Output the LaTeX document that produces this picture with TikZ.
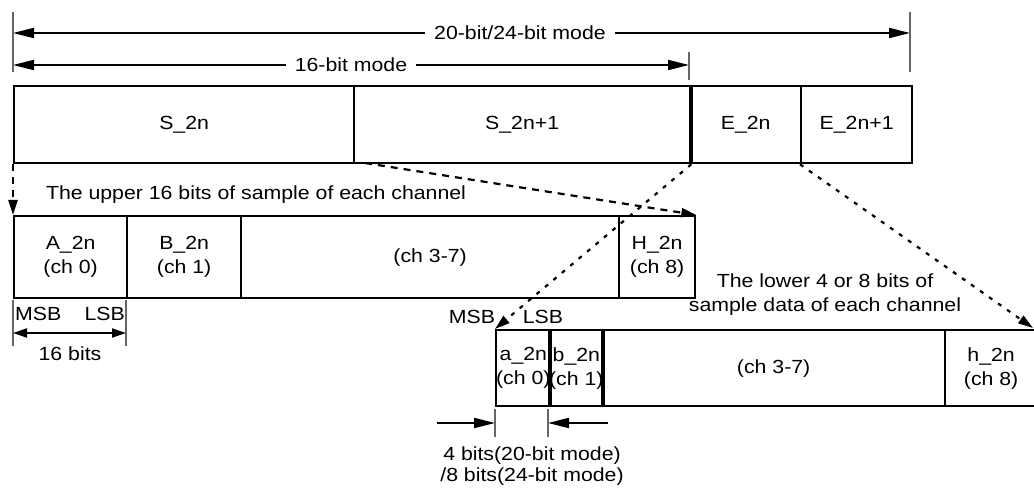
\documentclass[tikz,border=0pt]{standalone}
\usepackage{fontspec}
\setmainfont[FakeStretch=1.12]{Liberation Sans}
\usetikzlibrary{arrows.meta}
\begin{document}
\begin{tikzpicture}[x=1pt,y=-1pt,
  every node/.style={font=\fontsize{19}{24}\selectfont, inner sep=0pt, align=center},
  cell/.style={draw, line width=2.3pt, anchor=north west},
  tick/.style={line width=1.1pt, draw=black!60},
  arr/.style={line width=2pt, -{Triangle[length=21pt,width=10pt]}},
  darr/.style={line width=2pt, {Triangle[length=14pt,width=9pt]}-{Triangle[length=14pt,width=9pt]}},
  dsh/.style={line width=2.2pt, dash pattern=on 7pt off 6pt, -{Triangle[length=15pt,width=9pt]}},
  dtt/.style={line width=2.2pt, dash pattern=on 4pt off 7pt, -{Triangle[length=15pt,width=9pt]}},
  lbl/.style={fill=white, inner xsep=9pt, inner ysep=2pt}
]
\useasboundingbox (0,0) rectangle (1034,489);

% top row
\node[cell, minimum width=340pt, minimum height=77pt] (s0) at (13,85) {S\_2n};
\node[cell, minimum width=336pt, minimum height=77pt] (s1) at (353,85) {S\_2n+1};
\node[cell, minimum width=111pt, minimum height=77pt] (e0) at (689,85) {E\_2n};
\node[cell, minimum width=111pt, minimum height=77pt] (e1) at (800,85) {E\_2n+1};
\draw[line width=3.2pt] (s1.north east) -- (s1.south east);

% mode arrows
\coordinate (t0a) at (13,12);  \coordinate (t0b) at (13,72);
\coordinate (t2a) at (910,12); \coordinate (t2b) at (910,72);
\coordinate (t1a) at (689,52); \coordinate (t1b) at (689,80);
\draw[tick] (t0a) -- (t0b);
\draw[tick] (t2a) -- (t2b);
\draw[tick] (t1a) -- (t1b);
\coordinate (l20) at (13,33);  \coordinate (r20) at (910,33);
\coordinate (l16) at (13,65);  \coordinate (r16) at (689,65);
\node[lbl] (m20) at (520,33) {20-bit/24-bit mode};
\node[lbl] (m16) at (351,65) {16-bit mode};
\draw[arr] (m20.west) -- (l20);
\draw[arr] (m20.east) -- (r20);
\draw[arr] (m16.west) -- (l16);
\draw[arr] (m16.east) -- (r16);

% upper channel row
\node (up) at (256,195) {The upper 16 bits of sample of each channel};
\node[cell, minimum width=113pt, minimum height=82pt] (A) at (13,215) {A\_2n\\(ch 0)};
\node[cell, minimum width=114pt, minimum height=82pt] (B) at (126,215) {B\_2n\\(ch 1)};
\node[cell, minimum width=378pt, minimum height=82pt] (M) at (240,215) {(ch 3-7)};
\node[cell, minimum width=76pt, minimum height=82pt] (H) at (618,215) {H\_2n\\(ch 8)};

\coordinate (u1a) at (13,300);  \coordinate (u1b) at (13,346);
\coordinate (u2a) at (126,300); \coordinate (u2b) at (126,346);
\draw[tick] (u1a) -- (u1b);
\draw[tick] (u2a) -- (u2b);
\node[anchor=west] (msb1) at (15,314) {MSB};
\node[anchor=east] (lsb1) at (125,314) {LSB};
\coordinate (w1) at (13,333); \coordinate (w2) at (126,333);
\draw[darr] (w1) -- (w2);
\node (b16) at (70,354) {16 bits};

% lower channel row
\node (lo) at (825,295) {The lower 4 or 8 bits of\\sample data of each channel};
\node[cell, minimum width=53pt, minimum height=76pt] (a) at (495,329) {a\_2n\\(ch 0)};
\node[cell, minimum width=53pt, minimum height=76pt] (b) at (548,329) {b\_2n\\(ch 1)};
\node[cell, minimum width=343pt, minimum height=76pt] (m) at (601,329) {(ch 3-7)};
\node[cell, minimum width=92pt, minimum height=76pt] (h) at (944,329) {h\_2n\\(ch 8)};
\node (msb2) at (472,317) {MSB};
\node (lsb2) at (543,317) {LSB};

\coordinate (v1a) at (495,409); \coordinate (v1b) at (495,437);
\coordinate (v2a) at (548,409); \coordinate (v2b) at (548,437);
\draw[tick] (v1a) -- (v1b);
\draw[tick] (v2a) -- (v2b);
\coordinate (p1) at (437,423); \coordinate (p2) at (608,423);
\draw[arr] (p1) -- (v1a |- p1);
\draw[arr] (p2) -- (v2a |- p2);
\node[font=\fontsize{19}{21}\selectfont] (bits) at (532,466) {4 bits(20-bit mode)\\/8 bits(24-bit mode)};

% dashed connectors
\coordinate (d1) at (365,163);
\coordinate (hend) at (1033,328);
\draw[dsh] (s0.south west) -- (A.north west);
\draw[dsh] (d1) -- (H.north east);
\draw[dtt] (s1.south east) -- (a.north west);
\draw[dtt] (e1.south west) -- (hend);
\end{tikzpicture}
\end{document}
